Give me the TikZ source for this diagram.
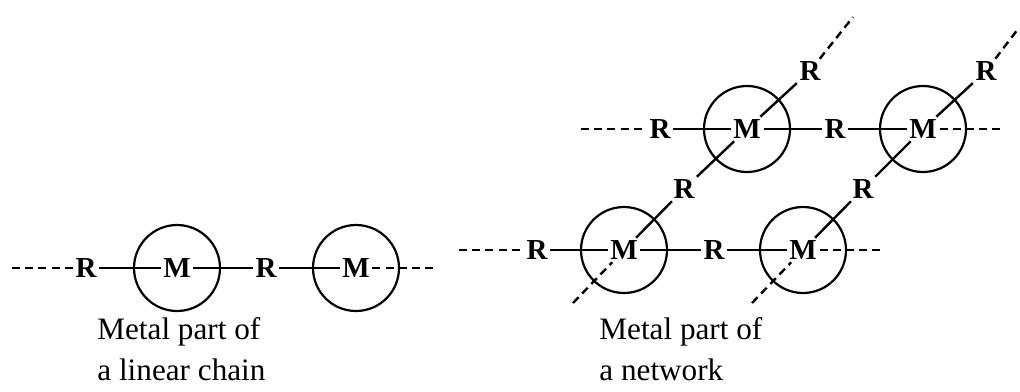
\documentclass[tikz,border=0pt]{standalone}
\usepackage{fontspec}
\setmainfont{Liberation Serif}
\usepackage{tikz}

\begin{document}
\begin{tikzpicture}[x=0.5pt, y=-0.5pt,
  metal/.style={draw, circle, line width=1.1pt, minimum size=43pt, inner sep=0pt},
  atom/.style={font=\fontsize{14.5}{16}\selectfont\bfseries, inner sep=1.2pt},
  bond/.style={line width=1.2pt},
  open/.style={line width=1.2pt, dash pattern=on 4pt off 2.6pt},
  caption/.style={font=\fontsize{15.6}{20.5}\selectfont, align=left,
                  inner sep=0pt, anchor=north west}
]
\useasboundingbox (0,0) rectangle (1020,391);

\node[metal] (ca) at (177,268) {};
\node[metal] (cb) at (356,268) {};
\node[atom] (ra) at (86,268) {R};
\node[atom] (ma) at (ca) {M};
\node[atom] (rb) at (266,268) {R};
\node[atom] (mb) at (cb) {M};
\coordinate (la) at (12,268);
\coordinate (le) at (433,268);

\draw[open] (la) -- (ra);
\draw[bond] (ra) -- (ma);
\draw[bond] (ma) -- (rb);
\draw[bond] (rb) -- (mb);
\draw[open] (mb) -- (le);

\node[caption] (capa) at (97,317) {Metal part of\\a linear chain};

\node[metal] (cb1) at (624,250) {};
\node[metal] (cb2) at (803,250) {};
\node[metal] (ct1) at (747,129) {};
\node[metal] (ct2) at (923,129) {};

\node[atom] (rb0) at (537,250) {R};
\node[atom] (mb1) at (cb1) {M};
\node[atom] (rb1) at (714,250) {R};
\node[atom] (mb2) at (cb2) {M};
\node[atom] (rt0) at (660,129) {R};
\node[atom] (mt1) at (ct1) {M};
\node[atom] (rt1) at (835,129) {R};
\node[atom] (mt2) at (ct2) {M};
\node[atom] (rd1) at (684,189) {R};
\node[atom] (rd2) at (863,189) {R};
\node[atom] (ru1) at (810,71) {R};
\node[atom] (ru2) at (986,71) {R};

\coordinate (bl) at (459,250);
\coordinate (be) at (881,250);
\coordinate (tl) at (581,129);
\coordinate (te) at (1002,129);
\coordinate (dl1) at (573,303);
\coordinate (dl2) at (752,303);
\coordinate (du1) at (853,17);
\coordinate (du2) at (1018,29);

\draw[open] (bl) -- (rb0);
\draw[bond] (rb0) -- (mb1);
\draw[bond] (mb1) -- (rb1);
\draw[bond] (rb1) -- (mb2);
\draw[open] (mb2) -- (be);

\draw[open] (tl) -- (rt0);
\draw[bond] (rt0) -- (mt1);
\draw[bond] (mt1) -- (rt1);
\draw[bond] (rt1) -- (mt2);
\draw[open] (mt2) -- (te);

\draw[open] (dl1) -- (mb1);
\draw[bond] (mb1) -- (rd1);
\draw[bond] (rd1) -- (mt1);
\draw[bond] (mt1) -- (ru1);
\draw[open] (ru1) -- (du1);

\draw[open] (dl2) -- (mb2);
\draw[bond] (mb2) -- (rd2);
\draw[bond] (rd2) -- (mt2);
\draw[bond] (mt2) -- (ru2);
\draw[open] (ru2) -- (du2);

\node[caption] (capb) at (599,317) {Metal part of\\a network};
\end{tikzpicture}
\end{document}
